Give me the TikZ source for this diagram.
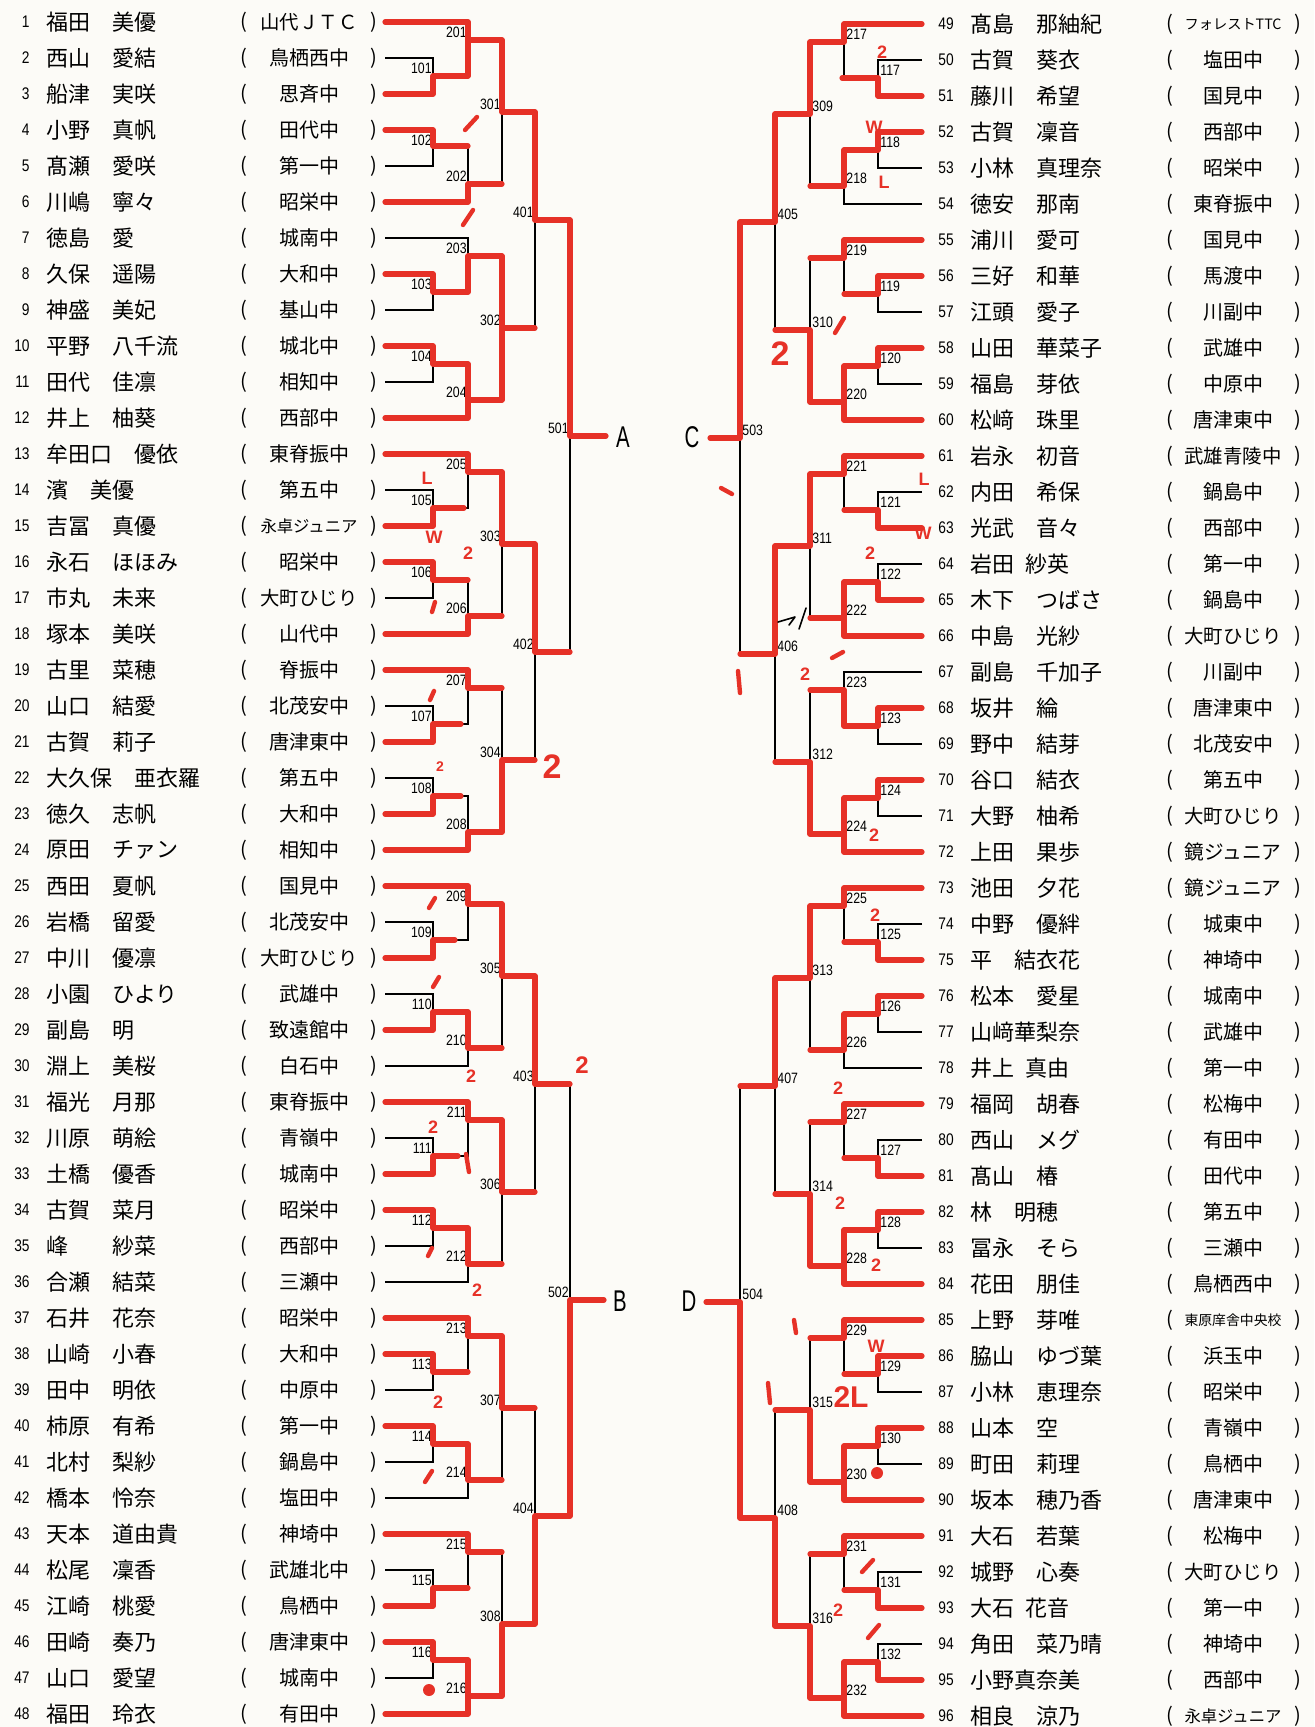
\documentclass[tikz,border=0pt]{standalone}
\usepackage{fontspec}
\usepackage{graphicx}
\newfontfamily\jp{Noto Sans CJK JP}
\newfontfamily\narrow{Liberation Sans}[FakeStretch=0.82]
\newfontfamily\narrowb{Liberation Sans}[FakeStretch=0.68]
\newfontfamily\hand{Liberation Sans}
\definecolor{pen}{HTML}{E63127}
\definecolor{paper}{HTML}{FCFBF7}
\newsavebox\schbox
\newcommand\school[1]{\sbox\schbox{#1}\ifdim\wd\schbox>48.5pt\resizebox{48.5pt}{!}{\usebox\schbox}\else\usebox\schbox\fi}
\def\La{385}\def\Lb{433}\def\Lc{468}\def\Ld{502}\def\Le{535}\def\Lf{570}
\def\Ra{922}\def\Rb{878}\def\Rc{844}\def\Rd{810}\def\Re{775}\def\Rf{740}
\begin{document}
\begin{tikzpicture}[x=0.5pt,y=-0.5pt,
  blk/.style={line width=0.55pt,black},
  redp/.style={line width=2.6pt,pen,line cap=round,line join=round},
  tick/.style={line width=2.2pt,pen,line cap=round},
  nm/.style={anchor=west,inner sep=0pt,font=\jp\fontsize{11pt}{13pt}\selectfont},
  scl/.style={inner sep=0pt,font=\jp\fontsize{10pt}{12pt}\selectfont},
  par/.style={inner sep=0pt,font=\jp\fontsize{10pt}{12pt}\selectfont},
  rnum/.style={inner sep=0pt,font=\narrow\fontsize{8.4pt}{10pt}\selectfont},
  lab/.style={inner sep=0pt,font=\narrow\fontsize{7.5pt}{9pt}\selectfont},
  let/.style={inner sep=0pt,font=\narrowb\fontsize{15pt}{17pt}\selectfont},
  mk/.style={text=pen,inner sep=0pt,font=\hand\bfseries\fontsize{9pt}{10pt}\selectfont},
  mkb/.style={text=pen,inner sep=0pt,font=\hand\bfseries\fontsize{17pt}{18pt}\selectfont}]
\fill[paper] (0,0) rectangle (1314,1727);
\useasboundingbox (0,0) rectangle (1314,1727);

% ---------- left entries ----------
\foreach \i/\nm/\scl in {
1/福田　美優/山代ＪＴＣ, 2/西山　愛結/鳥栖西中, 3/船津　実咲/思斉中, 4/小野　真帆/田代中,
5/髙瀬　愛咲/第一中, 6/川嶋　寧々/昭栄中, 7/徳島　愛/城南中, 8/久保　遥陽/大和中,
9/神盛　美妃/基山中, 10/平野　八千流/城北中, 11/田代　佳凛/相知中, 12/井上　柚葵/西部中,
13/牟田口　優依/東脊振中, 14/濱　美優/第五中, 15/吉冨　真優/永卓ジュニア, 16/永石　ほほみ/昭栄中,
17/市丸　未来/大町ひじり, 18/塚本　美咲/山代中, 19/古里　菜穂/脊振中, 20/山口　結愛/北茂安中,
21/古賀　莉子/唐津東中, 22/大久保　亜衣羅/第五中, 23/徳久　志帆/大和中, 24/原田　チァン/相知中,
25/西田　夏帆/国見中, 26/岩橋　留愛/北茂安中, 27/中川　優凛/大町ひじり, 28/小園　ひより/武雄中,
29/副島　明/致遠館中, 30/淵上　美桜/白石中, 31/福光　月那/東脊振中, 32/川原　萌絵/青嶺中,
33/土橋　優香/城南中, 34/古賀　菜月/昭栄中, 35/峰　　紗菜/西部中, 36/合瀬　結菜/三瀬中,
37/石井　花奈/昭栄中, 38/山崎　小春/大和中, 39/田中　明依/中原中, 40/柿原　有希/第一中,
41/北村　梨紗/鍋島中, 42/橋本　怜奈/塩田中, 43/天本　道由貴/神埼中, 44/松尾　凜香/武雄北中,
45/江崎　桃愛/鳥栖中, 46/田崎　奏乃/唐津東中, 47/山口　愛望/城南中, 48/福田　玲衣/有田中}{
  \pgfmathsetmacro\yy{22+36*(\i-1)}
  \node[rnum,anchor=east] (k\i) at (30,\yy) {\i};
  \node[nm] (n\i) at (46,\yy) {\nm};
  \node[par] (po\i) at (244,\yy) {(};
  \node[scl] (s\i) at (309,\yy) {\school{\scl}};
  \node[par] (pc\i) at (374,\yy) {)};
}
% ---------- right entries ----------
\foreach \i/\nm/\scl in {
49/髙島　那紬紀/フォレストTTC, 50/古賀　葵衣/塩田中, 51/藤川　希望/国見中, 52/古賀　凜音/西部中,
53/小林　真理奈/昭栄中, 54/徳安　那南/東脊振中, 55/浦川　愛可/国見中, 56/三好　和華/馬渡中,
57/江頭　愛子/川副中, 58/山田　華菜子/武雄中, 59/福島　芽依/中原中, 60/松﨑　珠里/唐津東中,
61/岩永　初音/武雄青陵中, 62/内田　希保/鍋島中, 63/光武　音々/西部中, 64/岩田\hspace{0.5em}紗英/第一中,
65/木下　つばさ/鍋島中, 66/中島　光紗/大町ひじり, 67/副島　千加子/川副中, 68/坂井　綸/唐津東中,
69/野中　結芽/北茂安中, 70/谷口　結衣/第五中, 71/大野　柚希/大町ひじり, 72/上田　果歩/鏡ジュニア,
73/池田　夕花/鏡ジュニア, 74/中野　優絆/城東中, 75/平　結衣花/神埼中, 76/松本　愛星/城南中,
77/山﨑華梨奈/武雄中, 78/井上\hspace{0.5em}真由/第一中, 79/福岡　胡春/松梅中, 80/西山　メグ/有田中,
81/髙山　椿/田代中, 82/林　明穂/第五中, 83/冨永　そら/三瀬中, 84/花田　朋佳/鳥栖西中,
85/上野　芽唯/東原庠舎中央校, 86/脇山　ゆづ葉/浜玉中, 87/小林　恵理奈/昭栄中, 88/山本　空/青嶺中,
89/町田　莉理/鳥栖中, 90/坂本　穂乃香/唐津東中, 91/大石　若葉/松梅中, 92/城野　心奏/大町ひじり,
93/大石\hspace{0.5em}花音/第一中, 94/角田　菜乃晴/神埼中, 95/小野真奈美/西部中, 96/相良　涼乃/永卓ジュニア}{
  \pgfmathsetmacro\yy{24+36*(\i-49)}
  \node[rnum,anchor=west] (k\i) at (938,\yy) {\i};
  \node[nm] (n\i) at (970,\yy) {\nm};
  \node[par] (po\i) at (1170,\yy) {(};
  \node[scl] (s\i) at (1233,\yy) {\school{\scl}};
  \node[par] (pc\i) at (1298,\yy) {)};
}

% ---------- left bracket ----------
\foreach \b in {0,...,7}{
  \pgfmathtruncatemacro\laba{101+2*\b}
  \pgfmathtruncatemacro\labb{102+2*\b}
  \pgfmathtruncatemacro\labc{201+2*\b}
  \pgfmathtruncatemacro\labd{202+2*\b}
  \pgfmathtruncatemacro\labe{301+\b}
  \begin{scope}[shift={(0,22+216*\b)}]
    \draw[blk] (\La,0) -- (\Lc,0) -- (\Lc,54) -- (\Lb,54);
    \draw[blk] (\La,36) -- (\Lb,36) -- (\Lb,72) -- (\La,72);
    \draw[blk] (\La,108) -- (\Lb,108) -- (\Lb,144) -- (\La,144);
    \draw[blk] (\Lb,126) -- (\Lc,126) -- (\Lc,180) -- (\La,180);
    \draw[blk] (\Lc,18) -- (\Ld,18) -- (\Ld,162) -- (\Lc,162);
    \draw[blk] (\Ld,90) -- (\Le,90);
    \node[lab,anchor=south east] (m\laba) at (\Lb-1,52) {\laba};
    \node[lab,anchor=south east] (m\labb) at (\Lb-1,124) {\labb};
    \node[lab,anchor=south east] (m\labc) at (\Lc-1,16) {\labc};
    \node[lab,anchor=south east] (m\labd) at (\Lc-1,160) {\labd};
    \node[lab,anchor=south east] (m\labe) at (\Ld-1,88) {\labe};
  \end{scope}
}
\foreach \p in {0,...,3}{
  \pgfmathtruncatemacro\labf{401+\p}
  \begin{scope}[shift={(0,22+432*\p)}]
    \draw[blk] (\Le,90) -- (\Le,306);
    \draw[blk] (\Le,198) -- (\Lf,198);
    \node[lab,anchor=south east] (m\labf) at (\Le-1,196) {\labf};
  \end{scope}
}
\draw[blk] (\Lf,220) -- (\Lf,652);
\draw[blk] (\Lf,436) -- (604,436);
\node[lab,anchor=south east] (m501) at (\Lf-1,434) {501};
\draw[blk] (\Lf,1084) -- (\Lf,1516);
\draw[blk] (\Lf,1300) -- (604,1300);
\node[lab,anchor=south east] (m502) at (\Lf-1,1298) {502};
\node[let] (A) at (623,437) {A};
\node[let] (B) at (620,1301) {B};

% ---------- right bracket ----------
\foreach \b in {0,...,7}{
  \pgfmathtruncatemacro\laba{117+2*\b}
  \pgfmathtruncatemacro\labb{118+2*\b}
  \pgfmathtruncatemacro\labc{217+2*\b}
  \pgfmathtruncatemacro\labd{218+2*\b}
  \pgfmathtruncatemacro\labe{309+\b}
  \begin{scope}[shift={(0,24+216*\b)}]
    \draw[blk] (\Ra,0) -- (\Rc,0) -- (\Rc,54) -- (\Rb,54);
    \draw[blk] (\Ra,36) -- (\Rb,36) -- (\Rb,72) -- (\Ra,72);
    \draw[blk] (\Ra,108) -- (\Rb,108) -- (\Rb,144) -- (\Ra,144);
    \draw[blk] (\Rb,126) -- (\Rc,126) -- (\Rc,180) -- (\Ra,180);
    \draw[blk] (\Rc,18) -- (\Rd,18) -- (\Rd,162) -- (\Rc,162);
    \draw[blk] (\Rd,90) -- (\Re,90);
    \node[lab,anchor=south west] (m\laba) at (\Rb+2,52) {\laba};
    \node[lab,anchor=south west] (m\labb) at (\Rb+2,124) {\labb};
    \node[lab,anchor=south west] (m\labc) at (\Rc+2,16) {\labc};
    \node[lab,anchor=south west] (m\labd) at (\Rc+2,160) {\labd};
    \node[lab,anchor=south west] (m\labe) at (\Rd+2,88) {\labe};
  \end{scope}
}
\foreach \p in {0,...,3}{
  \pgfmathtruncatemacro\labf{405+\p}
  \begin{scope}[shift={(0,24+432*\p)}]
    \draw[blk] (\Re,90) -- (\Re,306);
    \draw[blk] (\Re,198) -- (\Rf,198);
    \node[lab,anchor=south west] (m\labf) at (\Re+2,196) {\labf};
  \end{scope}
}
\draw[blk] (\Rf,222) -- (\Rf,654);
\draw[blk] (\Rf,438) -- (710,438);
\node[lab,anchor=south west] (m503) at (\Rf+2,436) {503};
\draw[blk] (\Rf,1086) -- (\Rf,1518);
\draw[blk] (\Rf,1302) -- (706,1302);
\node[lab,anchor=south west] (m504) at (\Rf+2,1300) {504};
\node[let] (C) at (692,437) {C};
\node[let] (D) at (689,1301) {D};

% ---------- red marker, left ----------
\begin{scope}[shift={(0,22)}]
  \draw[redp] (\La,0) -- (\Lc,0) -- (\Lc,54);
  \draw[redp] (\La,72) -- (\Lb,72) -- (\Lb,54) -- (\Lc,54);
  \draw[redp] (\Lc,18) -- (\Ld,18) -- (\Ld,90) -- (\Le,90) -- (\Le,198) -- (\Lf,198) -- (\Lf,414) -- (606,414);
  \draw[redp] (\La,108) -- (\Lb,108) -- (\Lb,124) -- (\Lc,124);
  \draw[redp] (\La,180) -- (\Lc,180) -- (\Lc,162) -- (\Ld,162);
  \draw[tick] (465,108) -- (477,95);
  \draw[tick] (463,203) -- (473,188);
\end{scope}
\begin{scope}[shift={(0,238)}]
  \draw[redp] (\La,36) -- (\Lb,36) -- (\Lb,54) -- (\Lc,54) -- (\Lc,18) -- (\Ld,18);
  \draw[redp] (\La,108) -- (\Lb,108) -- (\Lb,126) -- (\Lc,126) -- (\Lc,180) -- (\La,180);
  \draw[redp] (\Lc,162) -- (\Ld,162);
  \draw[redp] (\Ld,18) -- (\Ld,162);
  \draw[redp] (\Ld,90) -- (\Le,90);
\end{scope}
\begin{scope}[shift={(0,454)}]
  \draw[redp] (\La,0) -- (\Lc,0) -- (\Lc,18) -- (\Ld,18) -- (\Ld,90) -- (\Le,90) -- (\Le,198) -- (\Lf,198);
  \draw[redp] (\La,72) -- (\Lb,72) -- (\Lb,54) -- (\Lc-4,54);
  \draw[redp] (\La,108) -- (\Lb,108) -- (\Lb,126) -- (\Lc,126);
  \draw[redp] (\La,180) -- (\Lc,180) -- (\Lc,162) -- (\Ld,162);
  \node[mk] (q1) at (427,24) {L};
  \node[mk] (q2) at (434,83) {W};
  \node[mk] (q3) at (468,99) {2};
  \draw[tick] (432,158) -- (435,148);
\end{scope}
\begin{scope}[shift={(0,670)}]
  \draw[redp] (\La,0) -- (\Lc,0) -- (\Lc,18) -- (\Ld,18);
  \draw[redp] (\La,72) -- (\Lb,72) -- (\Lb,54) -- (\Lc-7,54);
  \draw[redp] (\La,144) -- (\Lb,144) -- (\Lb,126) -- (\Lc-7,126);
  \draw[redp] (\La,180) -- (\Lc,180) -- (\Lc,162) -- (\Ld,162) -- (\Ld,90) -- (\Le,90);
  \draw[tick] (430,30) -- (434,21);
  \node[mk,font=\hand\bfseries\fontsize{7pt}{8pt}\selectfont] (q4) at (440,97) {2};
  \node[mkb] (q5) at (552,97) {2};
\end{scope}
\begin{scope}[shift={(0,886)}]
  \draw[redp] (\La,0) -- (\Lc,0) -- (\Lc,18) -- (\Ld,18) -- (\Ld,90) -- (\Le,90) -- (\Le,198) -- (\Lf,198);
  \draw[redp] (\La,72) -- (\Lb,72) -- (\Lb,54) -- (\Lb+22,54);
  \draw[redp] (\La,144) -- (\Lb,144) -- (\Lb,126) -- (\Lc,126) -- (\Lc,162) -- (\Ld,162);
  \draw[tick] (429,22) -- (435,12);
  \draw[tick] (433,101) -- (439,91);
  \node[mk] (q6) at (471,190) {2};
  \node[mkb,font=\hand\bfseries\fontsize{12pt}{13pt}\selectfont] (q7) at (582,179) {2};
\end{scope}
\begin{scope}[shift={(0,1102)}]
  \draw[redp] (\La,0) -- (\Lc,0) -- (\Lc,18) -- (\Ld,18) -- (\Ld,90) -- (\Le,90);
  \draw[redp] (\La,72) -- (\Lb,72) -- (\Lb,54) -- (\Lb+25,54);
  \draw[redp] (\La,108) -- (\Lb,108) -- (\Lb,126) -- (\Lc,126) -- (\Lc,162) -- (\Ld,162);
  \node[mk] (q8) at (433,25) {2};
  \draw[tick] (466,52) -- (469,70);
  \draw[tick] (428,154) -- (432,146);
  \node[mk] (q9) at (477,188) {2};
\end{scope}
\begin{scope}[shift={(0,1318)}]
  \draw[redp] (\La,0) -- (\Lc,0) -- (\Lc,18) -- (\Ld,18) -- (\Ld,90) -- (\Le,90);
  \draw[redp] (\La,36) -- (\Lb,36) -- (\Lb,54) -- (\Lc,54);
  \draw[redp] (\La,108) -- (\Lb,108) -- (\Lb,126) -- (\Lc,126) -- (\Lc,162) -- (\Ld,162);
  \node[mk] (q10) at (438,84) {2};
  \draw[tick] (425,164) -- (432,153);
\end{scope}
\begin{scope}[shift={(0,1534)}]
  \draw[redp] (\La,0) -- (\Lc,0) -- (\Lc,18) -- (\Ld,18);
  \draw[redp] (\La,72) -- (\Lb,72) -- (\Lb,54) -- (\Lc,54);
  \draw[redp] (\La,108) -- (\Lb,108) -- (\Lb,126) -- (\Lc,126) -- (\Lc,180) -- (\La,180);
  \draw[redp] (\Lc,162) -- (\Ld,162) -- (\Ld,90) -- (\Le,90) -- (\Le,-18) -- (\Lf,-18) -- (\Lf,-234) -- (604,-234);
  \fill[pen] (429,156) circle (6);
\end{scope}

% ---------- red marker, right ----------
\begin{scope}[shift={(0,24)}]
  \draw[redp] (\Ra,0) -- (\Rc,0) -- (\Rc,18) -- (\Rd,18) -- (\Rd,90) -- (\Re,90) -- (\Re,198) -- (\Rf,198) -- (\Rf,414) -- (710,414);
  \draw[redp] (\Ra,72) -- (\Rb,72) -- (\Rb,54) -- (\Rc-2,54);
  \draw[redp] (\Ra,108) -- (\Rb,108) -- (\Rb,126) -- (\Rc,126) -- (\Rc,162) -- (\Rd,162);
  \node[mk] (q11) at (882,28) {2};
  \node[mk] (q12) at (874,103) {W};
  \node[mk] (q13) at (884,158) {L};
\end{scope}
\begin{scope}[shift={(0,240)}]
  \draw[redp] (\Ra,0) -- (\Rc,0) -- (\Rc,18) -- (\Rd,18);
  \draw[redp] (\Ra,36) -- (\Rb,36) -- (\Rb,54) -- (\Rc,54);
  \draw[redp] (\Ra,108) -- (\Rb,108) -- (\Rb,126) -- (\Rc,126) -- (\Rc,180) -- (\Ra,180);
  \draw[redp] (\Rc,162) -- (\Rd,162) -- (\Rd,90) -- (\Re,90);
  \draw[tick] (835,93) -- (844,78);
  \node[mkb] (q14) at (780,114) {2};
\end{scope}
\begin{scope}[shift={(0,456)}]
  \draw[redp] (\Ra,0) -- (\Rc,0) -- (\Rc,18) -- (\Rd,18) -- (\Rd,90) -- (\Re,90) -- (\Re,198) -- (\Rf,198);
  \draw[redp] (\Ra,72) -- (\Rb,72) -- (\Rb,54) -- (\Rc,54);
  \draw[redp] (\Ra,144) -- (\Rb,144) -- (\Rb,126) -- (\Rc,126) -- (\Rc,180) -- (\Ra,180);
  \draw[redp] (\Rc,162) -- (\Rd,162);
  \node[mk] (q15) at (924,23) {L};
  \node[mk] (q16) at (923,77) {W};
  \node[mk] (q17) at (870,97) {2};
  \draw[tick] (721,32) -- (732,38);
  \draw[tick] (738,215) -- (740,237);
  \node[mk] (q18) at (805,218) {2};
  \draw[tick] (832,202) -- (843,196);
  \draw[line width=0.8pt,black,line cap=round,line join=round] (778,166) -- (795,161) -- (789,169);
  \draw[line width=0.8pt,black,line cap=round] (799,173) -- (806,152);
\end{scope}
\begin{scope}[shift={(0,672)}]
  \draw[redp] (\Ra,36) -- (\Rb,36) -- (\Rb,54) -- (\Rc,54) -- (\Rc,18) -- (\Rd,18);
  \draw[redp] (\Ra,108) -- (\Rb,108) -- (\Rb,126) -- (\Rc,126) -- (\Rc,180) -- (\Ra,180);
  \draw[redp] (\Rc,162) -- (\Rd,162) -- (\Rd,90) -- (\Re,90);
  \node[mk] (q19) at (874,163) {2};
\end{scope}
\begin{scope}[shift={(0,888)}]
  \draw[redp] (\Ra,0) -- (\Rc,0) -- (\Rc,18) -- (\Rd,18) -- (\Rd,90) -- (\Re,90) -- (\Re,198) -- (\Rf,198);
  \draw[redp] (\Ra,72) -- (\Rb,72) -- (\Rb,54) -- (\Rc,54);
  \draw[redp] (\Ra,108) -- (\Rb,108) -- (\Rb,126) -- (\Rc,126) -- (\Rc,162) -- (\Rd,162);
  \node[mk] (q20) at (875,27) {2};
\end{scope}
\begin{scope}[shift={(0,1104)}]
  \draw[redp] (\Ra,0) -- (\Rc,0) -- (\Rc,18) -- (\Rd,18);
  \draw[redp] (\Ra,72) -- (\Rb,72) -- (\Rb,54) -- (\Rc,54);
  \draw[redp] (\Ra,108) -- (\Rb,108) -- (\Rb,126) -- (\Rc,126) -- (\Rc,180) -- (\Ra,180);
  \draw[redp] (\Rc,162) -- (\Rd,162) -- (\Rd,90) -- (\Re,90);
  \node[mk] (q21) at (838,-16) {2};
  \node[mk] (q22) at (840,99) {2};
  \node[mk] (q23) at (876,161) {2};
\end{scope}
\begin{scope}[shift={(0,1320)}]
  \draw[redp] (\Ra,0) -- (\Rc,0) -- (\Rc,18) -- (\Rd,18);
  \draw[redp] (\Ra,36) -- (\Rb,36) -- (\Rb,54) -- (\Rc,54);
  \draw[redp] (\Ra,108) -- (\Rb,108) -- (\Rb,126) -- (\Rc,126) -- (\Rc,180) -- (\Ra,180);
  \draw[redp] (\Rc,162) -- (\Rd,162) -- (\Rd,90) -- (\Re,90);
  \draw[redp] (\Re,198) -- (\Rf,198) -- (\Rf,-18) -- (706,-18);
  \draw[tick] (794,0) -- (796,13);
  \node[mk] (q24) at (876,26) {W};
  \node[mkb,font=\hand\bfseries\fontsize{15pt}{16pt}\selectfont] (q25) at (851,77) {2L};
  \draw[tick] (768,63) -- (770,83);
  \fill[pen] (877,153) circle (6);
\end{scope}
\begin{scope}[shift={(0,1536)}]
  \draw[redp] (\Ra,0) -- (\Rc,0) -- (\Rc,18) -- (\Rd,18);
  \draw[redp] (\Ra,72) -- (\Rb,72) -- (\Rb,54) -- (\Rc,54);
  \draw[redp] (\Ra,144) -- (\Rb,144) -- (\Rb,126) -- (\Rc,126) -- (\Rc,180) -- (\Ra,180);
  \draw[redp] (\Rc,162) -- (\Rd,162) -- (\Rd,90) -- (\Re,90) -- (\Re,-18);
  \draw[tick] (862,36) -- (873,24);
  \node[mk] (q26) at (838,74) {2};
  \draw[tick] (868,102) -- (879,89);
\end{scope}
\end{tikzpicture}
\end{document}
